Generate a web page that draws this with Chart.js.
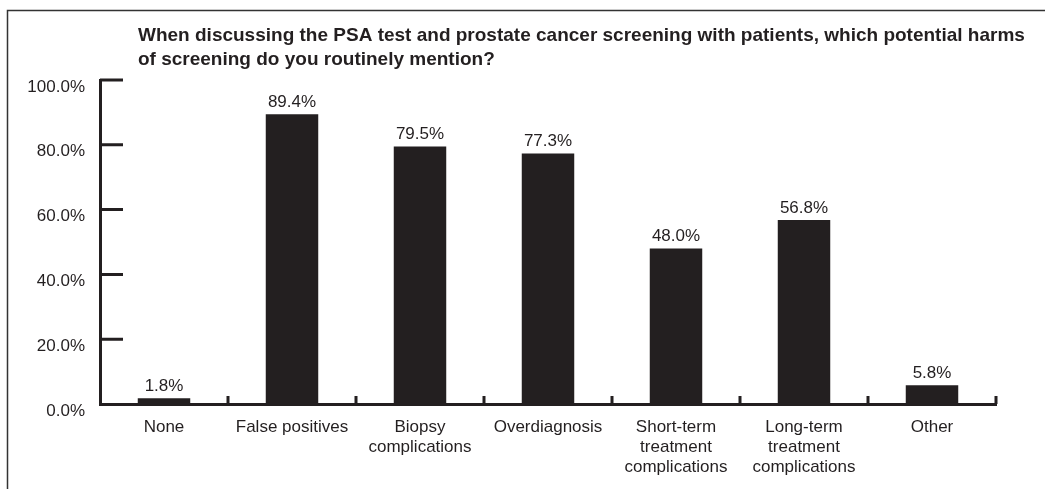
<!DOCTYPE html>
<html>
<head>
<meta charset="utf-8">
<title>PSA screening harms</title>
<script src="https://cdn.jsdelivr.net/npm/chart.js@4.4.1/dist/chart.umd.min.js"></script>
<style>
  html, body { margin: 0; padding: 0; background: #fff; }
  #wrap { width: 1045px; height: 489px; position: relative; }
</style>
</head>
<body>
<div id="wrap"><canvas id="chart" width="1045" height="489"></canvas></div>
<script>
// data
const categories = [
  "None",
  "False positives",
  ["Biopsy", "complications"],
  "Overdiagnosis",
  ["Short-term", "treatment", "complications"],
  ["Long-term", "treatment", "complications"],
  "Other"
];
const percents = [1.8, 89.4, 79.5, 77.3, 48.0, 56.8, 5.8];
const yTicks = [0, 20, 40, 60, 80, 100];
const titleLines = [
  "When discussing the PSA test and prostate cancer screening with patients, which potential harms",
  "of screening do you routinely mention?"
];

const ink = "#231f20";
const font = "'Liberation Sans', Arial, Helvetica, sans-serif";

// frame, title, inward ticks and value labels
const extras = {
  id: "extras",
  beforeDraw(chart) {
    const ctx = chart.ctx;
    ctx.save();
    ctx.strokeStyle = "#333";
    ctx.lineWidth = 1.5;
    ctx.beginPath();
    ctx.moveTo(7.5, 489);
    ctx.lineTo(7.5, 10.5);
    ctx.lineTo(1045, 10.5);
    ctx.stroke();
    ctx.fillStyle = ink;
    ctx.font = "bold 19px " + font;
    ctx.textBaseline = "middle";
    ctx.textAlign = "left";
    titleLines.forEach((t, i) => ctx.fillText(t, 138, 36 + i * 24));
    ctx.restore();
  },
  afterDraw(chart) {
    const ctx = chart.ctx;
    const x = chart.scales.x, y = chart.scales.y;
    const area = chart.chartArea;
    ctx.save();
    ctx.strokeStyle = ink;
    ctx.lineWidth = 3;
    ctx.beginPath();
    yTicks.forEach(v => {
      if (v === 0) return;
      const py = y.getPixelForValue(v);
      ctx.moveTo(area.left, py);
      ctx.lineTo(area.left + 23, py);
    });
    for (let i = 1; i <= categories.length; i++) {
      const px = (x.getPixelForValue(i - 1) + x.getPixelForValue(i)) / 2;
      const bx = i === categories.length ? area.right : px;
      ctx.moveTo(bx, area.bottom);
      ctx.lineTo(bx, area.bottom - 8);
    }
    ctx.stroke();
    ctx.fillStyle = ink;
    ctx.font = "17px " + font;
    ctx.textAlign = "center";
    ctx.textBaseline = "middle";
    chart.getDatasetMeta(0).data.forEach((bar, i) => {
      ctx.fillText(percents[i].toFixed(1) + "%", bar.x, bar.y - 12);
    });
    ctx.restore();
  }
};

new Chart(document.getElementById("chart"), {
  type: "bar",
  data: {
    labels: categories,
    datasets: [{
      data: percents,
      backgroundColor: ink,
      borderWidth: 0,
      categoryPercentage: 1,
      barPercentage: 0.41
    }]
  },
  options: {
    responsive: false,
    animation: false,
    events: [],
    layout: { padding: { top: 80, right: 49, left: 0, bottom: 0 } },
    plugins: { legend: { display: false }, title: { display: false }, tooltip: { enabled: false } },
    scales: {
      x: {
        grid: { display: false, drawTicks: false },
        border: { display: true, color: ink, width: 3 },
        ticks: {
          color: ink,
          font: { family: font, size: 17, lineHeight: 1.18 },
          padding: 13,
          maxRotation: 0,
          autoSkip: false
        },
        afterFit(s) { s.height = 85; }
      },
      y: {
        min: 0,
        max: 100,
        afterBuildTicks(s) { s.ticks = yTicks.map(v => ({ value: v })); },
        grid: { display: false, drawTicks: false },
        border: { display: true, color: ink, width: 3 },
        ticks: {
          color: ink,
          font: { family: font, size: 17 },
          padding: 15,
          labelOffset: 7,
          callback: v => v.toFixed(1) + "%"
        },
        afterFit(s) { s.width = 100; }
      }
    }
  },
  plugins: [extras]
});
</script>
</body>
</html>
